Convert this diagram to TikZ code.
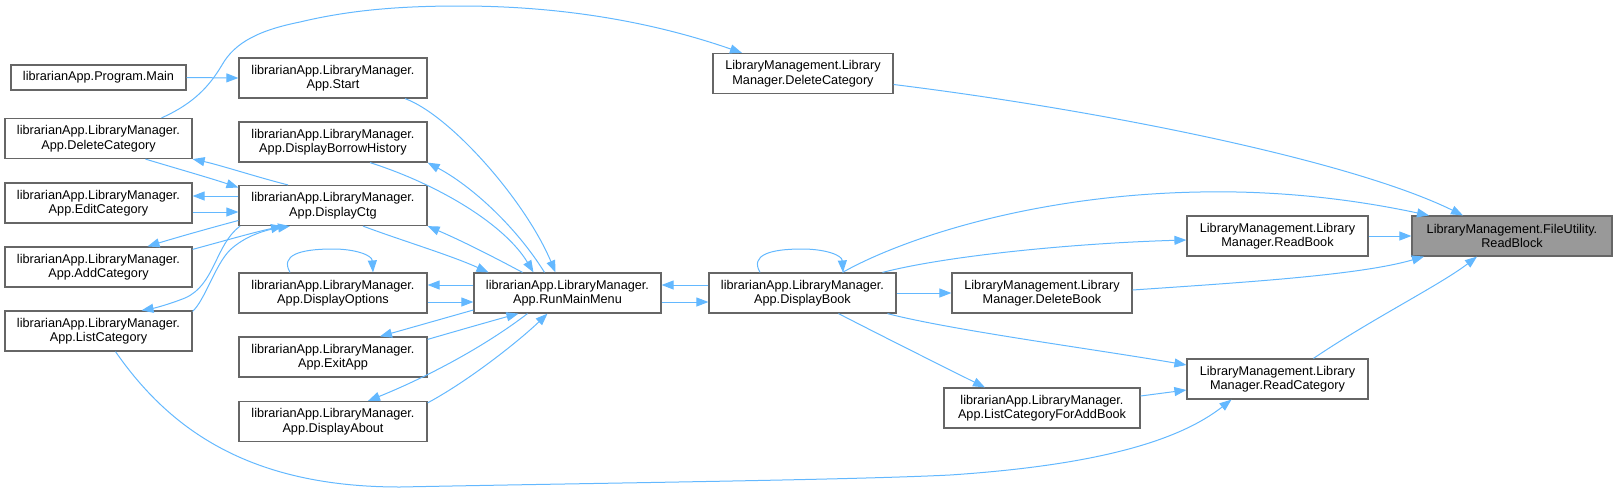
\documentclass[tikz,border=0pt]{standalone}
\usepackage{fontspec}
\setmainfont{Liberation Sans}
\usetikzlibrary{arrows.meta}
\definecolor{edgeblue}{HTML}{63B8FF}
\definecolor{boxgray}{HTML}{666666}
\definecolor{rootfill}{HTML}{999999}
\tikzset{
  box/.style={draw=boxgray, line width=1.2pt, fill=white, rectangle, inner sep=0pt, align=center,
    font=\fontsize{12.7pt}{14.5pt}\selectfont, minimum height=40pt},
  rootbox/.style={box, fill=rootfill},
  edge/.style={draw=edgeblue, line width=1pt, -{Triangle[length=12pt,width=9pt]}},
}
\begin{document}
\begin{tikzpicture}[x=1pt,y=-1pt]
\useasboundingbox (0,0) rectangle (1617,493);
% nodes
\node[box, minimum width=175pt, minimum height=25pt] (main) at (98.5,77.5) {librarianApp.Program.Main};
\node[box, minimum width=188pt] (start) at (333,78) {librarianApp.LibraryManager.\\App.Start};
\node[box, minimum width=187pt] (ldel) at (98.5,138.5) {librarianApp.LibraryManager.\\App.DeleteCategory};
\node[box, minimum width=188pt] (borrow) at (333,142) {librarianApp.LibraryManager.\\App.DisplayBorrowHistory};
\node[box, minimum width=187pt] (edit) at (98.5,203) {librarianApp.LibraryManager.\\App.EditCategory};
\node[box, minimum width=188pt] (ctg) at (333,205.5) {librarianApp.LibraryManager.\\App.DisplayCtg};
\node[box, minimum width=187pt] (add) at (98.5,267) {librarianApp.LibraryManager.\\App.AddCategory};
\node[box, minimum width=187pt] (list) at (98.5,331) {librarianApp.LibraryManager.\\App.ListCategory};
\node[box, minimum width=188pt] (opts) at (333,293) {librarianApp.LibraryManager.\\App.DisplayOptions};
\node[box, minimum width=188pt] (exit) at (333,357) {librarianApp.LibraryManager.\\App.ExitApp};
\node[box, minimum width=188pt] (about) at (333,421.5) {librarianApp.LibraryManager.\\App.DisplayAbout};
\node[box, minimum width=187pt] (run) at (567.5,293) {librarianApp.LibraryManager.\\App.RunMainMenu};
\node[box, minimum width=187pt] (book) at (802.5,293) {librarianApp.LibraryManager.\\App.DisplayBook};
\node[box, minimum width=180pt] (lmdel) at (803,73.5) {LibraryManagement.Library\\Manager.DeleteCategory};
\node[box, minimum width=181pt] (readbook) at (1277.5,236) {LibraryManagement.Library\\Manager.ReadBook};
\node[box, minimum width=180pt] (delbook) at (1042,293) {LibraryManagement.Library\\Manager.DeleteBook};
\node[box, minimum width=181pt] (readcat) at (1277.5,379) {LibraryManagement.Library\\Manager.ReadCategory};
\node[box, minimum width=196pt] (lcfab) at (1042,408) {librarianApp.LibraryManager.\\App.ListCategoryForAddBook};
\node[rootbox, minimum width=200pt] (readblock) at (1512,236) {LibraryManagement.FileUtility.\\ReadBlock};
% edges
\draw[edge] (main.east) -- (start.west);
\draw[edge] ([xshift=63pt]ldel.north) .. controls (195,103) and (210,85) .. (222,65)
  .. controls (235,42) and (260,30) .. (300,22) .. controls (350,10) and (400,6) .. (460,6)
  .. controls (580,6) and (670,28) .. ([xshift=-61pt]lmdel.north);
\draw[edge] ([xshift=72pt]start.south) .. controls (450,115) and (525,200) .. ([xshift=-12pt]run.north);
\draw[edge] ([xshift=37pt]borrow.south) .. controls (440,185) and (505,225) .. ([xshift=-34pt]run.north);
\draw[edge] ([xshift=-23pt]run.north) .. controls (515,225) and (470,185) .. (borrow.south east);
\draw[edge] ([xshift=30pt]ctg.south) .. controls (400,240) and (450,255) .. ([xshift=-79pt]run.north);
\draw[edge] ([xshift=-45pt]run.north) .. controls (490,255) and (460,240) .. (ctg.south east);
\draw[edge] ([yshift=8pt]run.west) -- ([yshift=8pt]opts.east);
\draw[edge] ([yshift=-9pt]opts.east) -- ([yshift=-9pt]run.west);
\draw[edge] ([yshift=-17pt]run.west) .. controls (445,318) and (410,328) .. ([xshift=47pt]exit.north);
\draw[edge] ([yshift=-3pt]exit.north east) .. controls (460,330) and (495,320) .. ([xshift=-49pt]run.south);
\draw[edge] ([xshift=-40pt]run.south) .. controls (480,350) and (420,380) .. ([xshift=35pt]about.north);
\draw[edge] ([yshift=-2pt]about.north east) .. controls (470,380) and (520,340) .. ([xshift=-20pt]run.south);
\draw[edge] ([yshift=8pt]book.west) -- ([yshift=8pt]run.east);
\draw[edge] ([yshift=-9pt]run.east) -- ([yshift=-9pt]book.west);
% DisplayCtg
\draw[edge] ([xshift=-45pt]ctg.north) .. controls (260,178) and (220,165) .. (ldel.south east);
\draw[edge] ([xshift=47pt]ldel.south) .. controls (175,168) and (210,178) .. ([yshift=18pt]ctg.west);
\draw[edge] ([yshift=9.5pt]ctg.west) -- ([yshift=7pt]edit.east);
\draw[edge] ([yshift=-9pt]edit.east) -- ([yshift=-6.5pt]ctg.west);
\draw[edge] ([yshift=-15pt]ctg.west) .. controls (210,228) and (175,238) .. ([xshift=49pt]add.north);
\draw[edge] ([yshift=-3pt]add.north east) .. controls (220,242) and (255,232) .. ([xshift=-50pt]ctg.south);
\draw[edge] ([xshift=-93pt]ctg.south) .. controls (215,245) and (215,285) .. (185,298)
  .. controls (170,304) and (155,308) .. ([xshift=43pt]list.north);
\draw[edge] ([yshift=-1pt]list.north east) .. controls (205,300) and (215,265) .. (230,250)
  .. controls (245,236) and (265,230) .. ([xshift=-43pt]ctg.south);
% self loops
\draw[edge] ([xshift=-43pt]opts.north) .. controls (280,255) and (300,249) .. (333,249)
  .. controls (355,249) and (372,255) .. ([xshift=40pt]opts.north);
\draw[edge] ([xshift=-42.5pt]book.north) .. controls (750,255) and (770,249) .. (802,249)
  .. controls (825,249) and (842,255) .. ([xshift=40.5pt]book.north);
% right side
\draw[edge] ([xshift=40pt]book.north) .. controls (900,240) and (1030,195) .. (1200,192)
  .. controls (1300,190) and (1380,205) .. ([xshift=-83pt]readblock.north);
\draw[edge] ([xshift=80pt]book.north) .. controls (950,255) and (1080,243) .. ([yshift=-4pt]readbook.west);
\draw[edge] (readbook.east) -- (readblock.west);
\draw[edge] (book.east) -- (delbook.west);
\draw[edge] ([yshift=3pt]delbook.east) .. controls (1250,282) and (1360,275) .. ([xshift=-88pt]readblock.south);
\draw[edge] ([xshift=85pt]book.south) .. controls (950,330) and (1100,350) .. ([yshift=14pt]readcat.west);
\draw[edge] ([xshift=36pt]book.south) .. controls (880,335) and (940,365) .. ([xshift=-57pt]lcfab.north);
\draw[edge] ([yshift=12pt]lcfab.east) -- ([yshift=-11pt]readcat.west);
\draw[edge] ([xshift=36pt]readcat.north) .. controls (1370,320) and (1440,285) .. ([xshift=-35pt]readblock.south);
\draw[edge] ([yshift=-11pt]lmdel.east) .. controls (1100,110) and (1350,160) .. ([xshift=-49pt]readblock.north);
\draw[edge] ([xshift=17pt]list.south) .. controls (170,430) and (250,487) .. (400,487)
  .. controls (600,483) and (850,480) .. (950,475)
  .. controls (1100,465) and (1180,440) .. ([xshift=-46pt]readcat.south);
\end{tikzpicture}
\end{document}
